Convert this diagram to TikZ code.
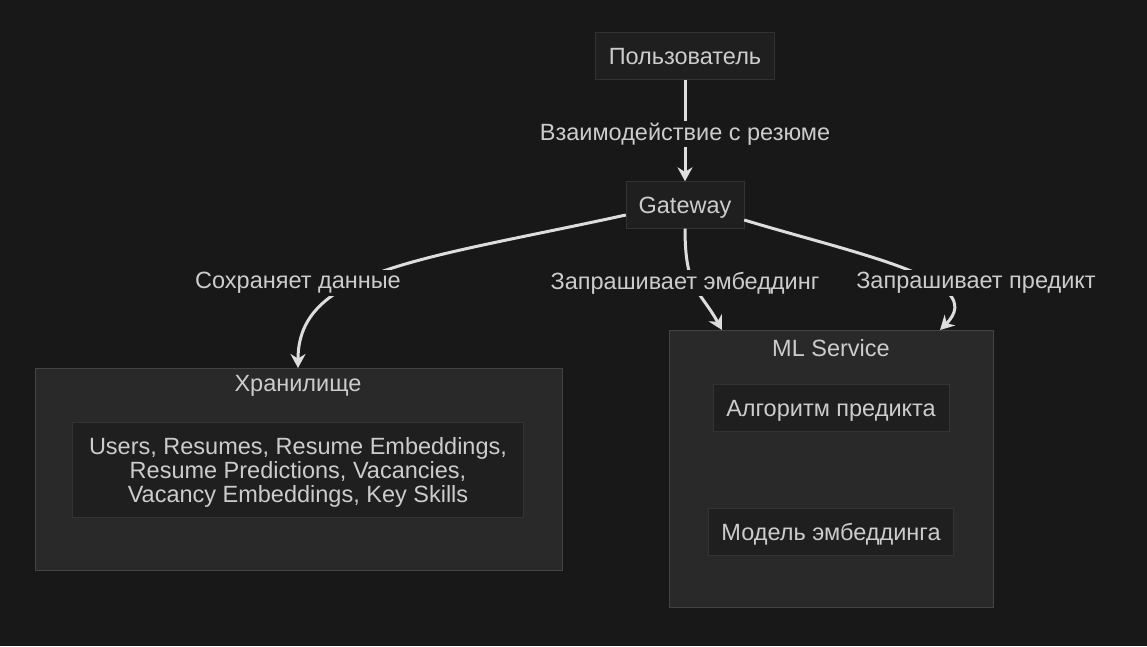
\documentclass[tikz,border=0pt]{standalone}
\usepackage{fontspec}
\setmainfont{Liberation Sans}
\usetikzlibrary{arrows.meta}
\definecolor{bg}{HTML}{181818}
\definecolor{nodefill}{HTML}{1F1F1F}
\definecolor{nodeline}{HTML}{333333}
\definecolor{clfill}{HTML}{292929}
\definecolor{clline}{HTML}{444444}
\definecolor{txt}{HTML}{CCCCCC}
\definecolor{edge}{HTML}{DDDDDD}
\begin{document}
\begin{tikzpicture}[x=1pt,y=-1pt,
  box/.style={draw=nodeline,fill=nodefill,text=txt,font=\fontsize{23.5}{26}\selectfont,inner sep=0pt},
  one/.style={text height=22pt,text depth=5pt},
  cl/.style={draw=clline,fill=clfill,line width=1pt},
  lbl/.style={text=txt,font=\fontsize{23.5}{26}\selectfont,fill=bg,inner sep=2pt},
  ttl/.style={text=txt,font=\fontsize{23.5}{26}\selectfont},
  arr/.style={draw=edge,line width=3pt,-{Stealth[length=14pt,width=15pt]}}]
\fill[bg] (0,0) rectangle (1147,646);
\useasboundingbox (0,0) rectangle (1147,646);
\draw[cl] (35,368) rectangle (562,570);
\draw[cl] (669,330) rectangle (993,607);
\node[ttl] (t1) at (298,386) {Хранилище};
\node[ttl] (t2) at (831,348) {ML Service};
\node[box,one,minimum width=179pt,minimum height=47pt] (u) at (685,56) {Пользователь};
\node[box,one,minimum width=118pt,minimum height=47pt] (g) at (685,205) {Gateway};
\node[box,minimum width=451pt,minimum height=95pt,align=center] (s) at (298,470) {\rule{0pt}{0pt}\\[-30pt]\strut\\[-5pt]Users, Resumes, Resume Embeddings,\\[-2pt]Resume Predictions, Vacancies,\\[-2pt]Vacancy Embeddings, Key Skills};
\node[box,one,minimum width=236pt,minimum height=47pt] (a) at (831,408) {Алгоритм предикта};
\node[box,one,minimum width=245pt,minimum height=47pt] (m) at (831,532) {Модель эмбеддинга};
\coordinate (e1) at (298,368);
\coordinate (e2) at (722,330);
\coordinate (e3) at (940,330);
\draw[arr] (u.south) -- (g.north);
\draw[arr] (g.west |- 0,215) .. controls (420,260) and (298,270) .. (e1);
\draw[arr] (g.south) .. controls (685,290) and (700,290) .. (e2);
\draw[arr] (g.east |- 0,220) .. controls (860,255) and (990,280) .. (e3);
\node[lbl] (l0) at (685,134) {Взаимодействие с резюме};
\node[lbl] (l1) at (298,283) {Сохраняет данные};
\node[lbl] (l2) at (685,283) {Запрашивает эмбеддинг};
\node[lbl] (l3) at (976,283) {Запрашивает предикт};
\end{tikzpicture}
\end{document}
